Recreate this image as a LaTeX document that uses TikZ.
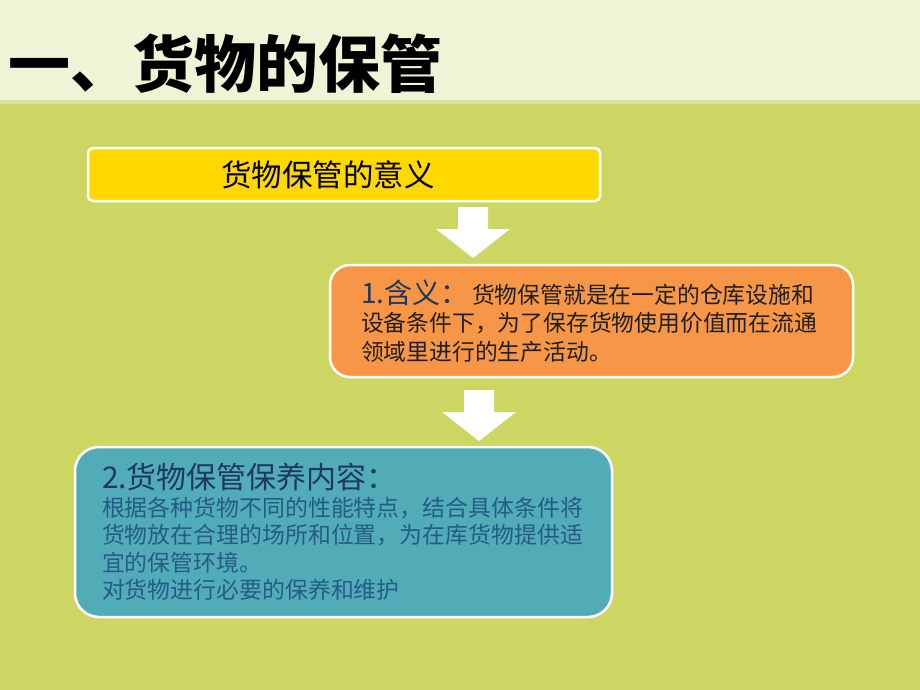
\documentclass[tikz,border=0pt]{standalone}
\usepackage{fontspec}
\setmainfont{Noto Sans CJK SC}
\usepackage{xcolor}
\usepackage{tikz}
\usetikzlibrary{positioning}

\definecolor{bggreen}{RGB}{205,214,98}
\definecolor{headcream}{RGB}{240,244,214}
\definecolor{headline}{RGB}{222,228,150}
\definecolor{meanyellow}{RGB}{255,216,0}
\definecolor{defnorange}{RGB}{247,150,70}
\definecolor{careteal}{RGB}{82,172,183}
\definecolor{navytext}{RGB}{31,56,96}
\definecolor{blueteal}{RGB}{36,92,135}

\tikzset{
 stepbox/.style={draw=white,line width=2.5pt,inner sep=0pt},
 downarrow/.pic={\fill[white] (-15,0) -- (15,0) -- (15,22) -- (37,22) -- (0,51) -- (-37,22) -- (-15,22) -- cycle;}
}

\begin{document}
\begin{tikzpicture}[x=1pt,y=-1pt]
 \useasboundingbox (0,0) rectangle (920,690);
 \fill[bggreen] (0,0) rectangle (920,690);
 \fill[headcream] (0,0) rectangle (920,100);
 \fill[headline] (0,100) rectangle (920,104);
 \node[anchor=base west,inner sep=0pt,font=\bfseries\fontsize{62}{62}\selectfont] (title) at (8,88) {一、货物的保管};

 \node[stepbox,fill=meanyellow,rounded corners=5pt,minimum width=512pt,minimum height=53pt,font=\fontsize{30.5}{30.5}\selectfont] (meaning) at (344,174.5) {\hspace*{-32pt}货物保管的意义};
 \pic (arrA) at (473,207) {downarrow};
 \node[stepbox,fill=defnorange,rounded corners=20pt,minimum width=523pt,minimum height=112pt,text width=461pt,align=left,font=\fontsize{22.8}{28.5}\selectfont,text=black!88] (definition) at (591.5,321) {{\color{navytext}\fontsize{28}{28.5}\selectfont 1.含义：}\,货物保管就是在一定的仓库设施和\\设备条件下，为了保存货物使用价值而在流通\\领域里进行的生产活动。};
 \pic (arrB) at (479,390) {downarrow};
 \node[stepbox,fill=careteal,rounded corners=24pt,minimum width=537pt,minimum height=170pt,text width=483pt,align=left,font=\fontsize{22.9}{27.5}\selectfont,text=blueteal] (content) at (343.5,532) {{\color{navytext}\fontsize{30}{33}\selectfont 2.货物保管保养内容：}\\根据各种货物不同的性能特点，结合具体条件将\\货物放在合理的场所和位置，为在库货物提供适\\宜的保管环境。\\对货物进行必要的保养和维护};
\end{tikzpicture}
\end{document}
